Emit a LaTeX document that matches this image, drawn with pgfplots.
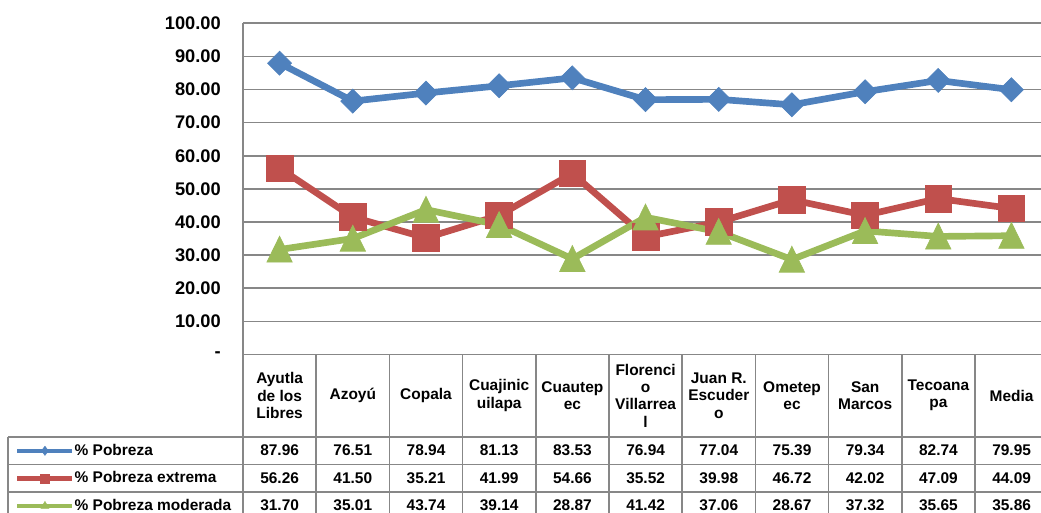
\documentclass[border=0pt]{standalone}
\usepackage{fontspec}
\setmainfont{Liberation Sans}
\usepackage{pgfplots}
\pgfplotsset{compat=1.18}
\definecolor{cblue}{HTML}{4F81BD}
\definecolor{cred}{HTML}{C0504D}
\definecolor{cgreen}{HTML}{9BBB59}
\definecolor{cgrid}{HTML}{878787}
\newcommand{\tf}{\fontsize{11.6pt}{13pt}\selectfont\bfseries}
\begin{document}
\begin{tikzpicture}
\path[use as bounding box] (0,0) rectangle (780.75pt,-384.75pt);
\begin{axis}[
  at={(182.25pt,-265.875pt)}, anchor=south west,
  scale only axis, width=603.75pt, height=248.4pt,
  xmin=-0.5, xmax=10.5, ymin=0, ymax=100,
  axis x line*=bottom, axis y line*=left,
  axis line style={cgrid, line width=1.2pt, -},
  xtick=\empty,
  ytick={0,10,...,100},
  yticklabels={{-\hspace{7.5pt}},10.00,20.00,30.00,40.00,50.00,60.00,70.00,80.00,90.00,100.00},
  ymajorgrids, grid style={cgrid, line width=1.2pt},
  major tick length=0pt,
  yticklabel style={font=\fontsize{13.7pt}{16pt}\selectfont\bfseries, inner sep=0pt, xshift=-16.5pt},
  clip=false,
  legend style={at={(axis description cs:-0.2832,-0.2482)}, anchor=north west,
    draw=none, fill=none, inner sep=0pt, row sep=0pt, column sep=0pt,
    font=\tf, nodes={inner sep=0pt, minimum height=20.7pt}},
  legend cell align=left,
  legend image code/.code={\draw[mark repeat=2,mark phase=2,#1] plot coordinates {(0pt,0pt) (20.6pt,0pt) (41.25pt,0pt)};},
  legend image post style={line width=3.3pt, mark size=3.5pt, mark options={solid, line width=0.3pt}},
]
\addplot[cblue, line width=5pt, mark=diamond*, mark size=9pt,
  mark options={solid, line width=0.5pt, xscale=1.333}] coordinates {
  (0,87.96) (1,76.51) (2,78.94) (3,81.13) (4,83.53) (5,76.94)
  (6,77.04) (7,75.39) (8,79.34) (9,82.74) (10,79.95)};
\addlegendentry{\% Pobreza}
\addplot[cred, line width=5pt, mark=square*, mark size=10pt,
  mark options={solid, line width=0.5pt}] coordinates {
  (0,56.26) (1,41.50) (2,35.21) (3,41.99) (4,54.66) (5,35.52)
  (6,39.98) (7,46.72) (8,42.02) (9,47.09) (10,44.09)};
\addlegendentry{\% Pobreza extrema}
\addplot[cgreen, line width=5pt, mark=triangle*, mark size=11pt,
  mark options={solid, line width=0.5pt, yshift=-3pt, yscale=1.18}] coordinates {
  (0,31.70) (1,35.01) (2,43.74) (3,39.14) (4,28.87) (5,41.42)
  (6,37.06) (7,28.67) (8,37.32) (9,35.65) (10,35.86)};
\addlegendentry{\% Pobreza moderada}
\end{axis}
\begin{scope}[x=0.75pt, y=-0.75pt]
  \draw[cgrid, line width=1.2pt] (243,354.5) -- (1048,354.5);
  \draw[cgrid, line width=1.2pt] (8,436.7) -- (1048,436.7);
  \draw[cgrid, line width=1.2pt] (8,464.3) -- (1048,464.3);
  \draw[cgrid, line width=1.2pt] (8,491.7) -- (1048,491.7);
  \draw[cgrid, line width=1.2pt] (8,436.7) -- (8,520);
  \foreach \k in {0,...,11} {\draw[cgrid, line width=1.2pt] ({243+73.2*\k},354.5) -- ({243+73.2*\k},520);}
  \foreach \n [count=\i from 0] in {{Ayutla\\de los\\Libres},{Azoyú},{Copala},{Cuajinic\\uilapa},{Cuautep\\ec},{Florenci\\o\\Villarrea\\l},{Juan R.\\Escuder\\o},{Ometep\\ec},{San\\Marcos},{Tecoana\\pa},{Media}}
    {\node[align=center, font=\tf, inner sep=0pt] at ({243+73.2*(\i+0.5)},395.6) {\n};}
  \foreach \v [count=\i from 0] in {87.96,76.51,78.94,81.13,83.53,76.94,77.04,75.39,79.34,82.74,79.95}
    {\node[font=\tf, inner sep=0pt] at ({243+73.2*(\i+0.5)},450.5) {\v};}
  \foreach \v [count=\i from 0] in {56.26,41.50,35.21,41.99,54.66,35.52,39.98,46.72,42.02,47.09,44.09}
    {\node[font=\tf, inner sep=0pt] at ({243+73.2*(\i+0.5)},478) {\v};}
  \foreach \v [count=\i from 0] in {31.70,35.01,43.74,39.14,28.87,41.42,37.06,28.67,37.32,35.65,35.86}
    {\node[font=\tf, inner sep=0pt] at ({243+73.2*(\i+0.5)},505.4) {\v};}
\end{scope}
\end{tikzpicture}
\end{document}
